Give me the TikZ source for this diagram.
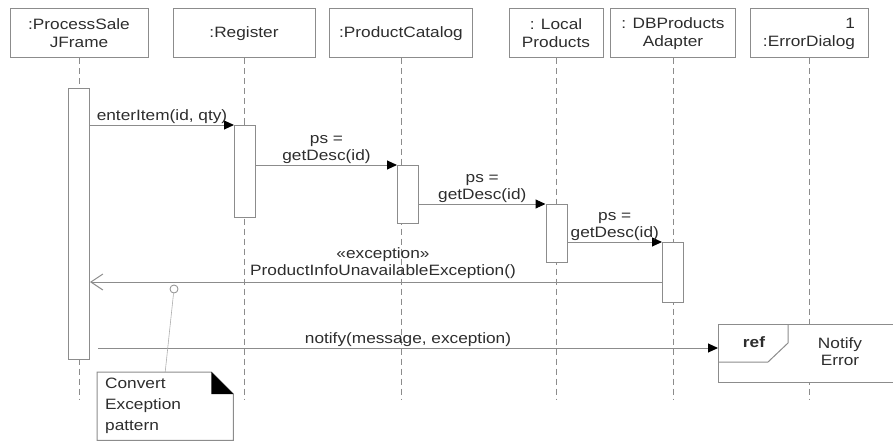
\documentclass[tikz,border=0pt]{standalone}
\usepackage{fontspec}
\setmainfont{Liberation Sans}[FakeStretch=1.15]
\usepackage{xcolor}
\definecolor{umlline}{RGB}{140, 140, 140}
\definecolor{umltext}{RGB}{45, 45, 45}
\usetikzlibrary{arrows.meta, calc, positioning}
\tikzset{
  head/.style={draw=umlline, line width=1pt, minimum height=49pt, inner sep=2pt,
    align=center, text=umltext, font=\fontsize{15}{18}\selectfont},
  life/.style={umlline, line width=1pt, dash pattern=on 6pt off 4pt},
  act/.style={draw=umlline, fill=white, line width=1pt, minimum width=21pt,
    inner sep=0pt, anchor=north},
  frm/.style={umlline, line width=1pt},
  msg/.style={frm, -{Triangle[length=10pt, width=9pt, color=black, fill=black]}},
  ret/.style={frm, -{Straight Barb[length=12pt, width=16pt]}},
  lbl/.style={text=umltext, font=\fontsize{15}{17}\selectfont, align=center, inner sep=1pt}
}

\begin{document}
\begin{tikzpicture}[x=1pt, y=-1pt]
  \clip (0,0) rectangle (893,441);
  % object heads
  \node[head, minimum width=138pt] (jframe) at (79,33.5) {:ProcessSale\\JFrame};
  \node[head, minimum width=142pt] (register) at (244,33.5) {:Register};
  \node[head, minimum width=143pt] (catalog) at (401,33.5) {:ProductCatalog};
  \node[head, minimum width=94pt] (local) at (556,33.5) {: Local\\Products};
  \node[head, minimum width=125pt] (adapter) at (673,33.5) {: DBProducts\\Adapter};
  \node[head, minimum width=118pt, align=right] (errdlg) at (809,33.5) {1\\:ErrorDialog};
  % lifelines
  \coordinate (bottom) at (0,399);
  \draw[life] (jframe.south) -- (jframe.south |- bottom);
  \draw[life] (register.south) -- (register.south |- bottom);
  \draw[life] (catalog.south) -- (catalog.south |- bottom);
  \draw[life] (local.south) -- (local.south |- bottom);
  \draw[life] (adapter.south) -- (adapter.south |- bottom);
  \draw[life] (errdlg.south) -- (errdlg.south |- bottom);
  % activations
  \node[act, minimum height=271pt] (a0) at (79,88) {};
  \node[act, minimum height=92pt] (a1) at (245,125) {};
  \node[act, minimum height=58pt] (a2) at (408,165) {};
  \node[act, minimum height=58pt] (a3) at (556.5,204) {};
  \node[act, minimum height=60pt] (a4) at (673,242) {};
  % interaction frame
  \node[draw=umlline, line width=1pt, fill=white, minimum width=220pt, minimum height=58pt,
    anchor=north west, inner sep=0pt] (ref) at (718,324) {};
  \draw[frm] ([xshift=70pt]ref.north west) -- ++(0,19) -- ++(-20,19) -- ([yshift=-38pt]ref.north west);
  \node[text=umltext, font=\fontsize{15}{18}\selectfont\bfseries] (reftag) at ([xshift=36pt, yshift=-18pt]ref.north west) {ref};
  \node[lbl] (refname) at (840,352) {Notify\\Error};
  % messages
  \coordinate (exc) at (0,282);
  \coordinate (notify) at (0,348);
  \draw[msg] (a0.east |- a1.north) -- node[lbl, above] {enterItem(id, qty)} (a1.north west);
  \draw[msg] (a1.east |- a2.north) -- node[lbl, above] {ps =\\getDesc(id)} (a2.north west);
  \draw[msg] (a2.east |- a3.north) -- node[lbl, above] {ps =\\getDesc(id)} (a3.north west);
  \draw[msg] (a3.east |- a4.north) -- node[lbl, above] {ps =\\getDesc(id)} (a4.north west);
  \draw[ret] (a4.west |- exc) -- node[lbl, above, xshift=7pt, inner sep=3pt]
    {«exception»\\ProductInfoUnavailableException()} (a0.east |- exc);
  \draw[msg] ([xshift=8pt]a0.east |- notify) -- node[lbl, above] {notify(message, exception)} (ref.west |- notify);
  % note
  \node[anchor=north west, text width=120pt, minimum height=68pt, inner xsep=8pt, align=left,
    text=umltext, font=\fontsize{15}{21}\selectfont] (note) at (97,372) {Convert\\Exception\\pattern};
  \draw[frm] (note.north west) -- ([xshift=-22pt]note.north east) -- ([yshift=-22pt]note.north east)
    -- (note.south east) -- (note.south west) -- cycle;
  \fill[black] ([xshift=-22pt]note.north east) -- ([yshift=-22pt]note.north east)
    -- ([xshift=-22pt, yshift=-22pt]note.north east) -- cycle;
  \node[circle, draw=umlline, fill=white, line width=0.8pt, minimum size=8pt, inner sep=0pt] (pin) at (174,289) {};
  \draw[umlline!70, line width=0.6pt] (pin) -- (note.north);
\end{tikzpicture}
\end{document}
